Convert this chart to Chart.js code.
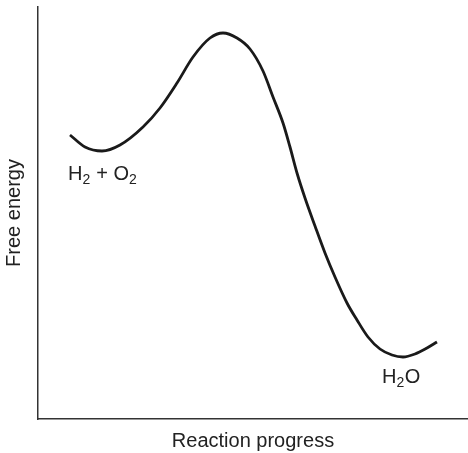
<!DOCTYPE html>
<html>
<head>
<meta charset="utf-8">
<script src="https://cdn.jsdelivr.net/npm/chart.js@4"></script>
<style>
  html, body { margin: 0; padding: 0; background: #fff; }
  #c { display: block; }
</style>
</head>
<body>
<canvas id="c" width="468" height="453"></canvas>
<script>
// Reaction progress (x) and free energy (y), arbitrary units
const progress = [32, 47, 64, 82, 105, 122, 139, 155, 172, 185, 199, 212, 225, 235, 245, 252, 259, 267, 277, 287, 297, 309, 319, 330, 342, 354, 365, 377, 389, 399];
const energy   = [284, 272, 268, 274, 292, 311, 336, 362, 381, 386, 381, 370, 348, 322, 296, 272, 246, 221, 193, 166, 142, 116, 99, 82, 70, 64, 62, 65, 71, 77];

// Curve labels: anchor in data units, text pieces (main, subscript)
const labelX = [30, 344];
const labelY = [239, 36];
const labelParts = [
  [["H", false], ["2", true], [" + ", false], ["O", false], ["2", true]],
  [["H", false], ["2", true], ["O", false]]
];

const xTitle = "Reaction progress";
const yTitle = "Free energy";

const FONT = "'Liberation Sans', Arial, Helvetica, sans-serif";
const TEXT = "#222";

const labelPlugin = {
  id: 'labels',
  afterDatasetsDraw(chart) {
    const ctx = chart.ctx;
    const xs = chart.scales.x, ys = chart.scales.y;
    ctx.save();
    ctx.fillStyle = TEXT;
    ctx.textBaseline = 'alphabetic';
    ctx.textAlign = 'left';
    labelParts.forEach((parts, i) => {
      let px = xs.getPixelForValue(labelX[i]);
      const py = ys.getPixelForValue(labelY[i]);
      parts.forEach(([t, sub]) => {
        ctx.font = (sub ? "14px " : "20px ") + FONT;
        ctx.fillText(t, px, py + (sub ? 4 : 0));
        px += ctx.measureText(t).width + (sub ? 0.5 : 0);
      });
    });
    ctx.restore();
  }
};

new Chart(document.getElementById('c'), {
  type: 'line',
  data: {
    datasets: [{
      data: progress.map((x, i) => ({ x: x, y: energy[i] })),
      borderColor: '#1a1a1a',
      borderWidth: 2.8,
      pointRadius: 0,
      fill: false,
      cubicInterpolationMode: 'monotone'
    }]
  },
  options: {
    responsive: false,
    animation: false,
    events: [],
    layout: { padding: { top: 7, right: 0, left: 0, bottom: 0 } },
    plugins: { legend: { display: false }, tooltip: { enabled: false } },
    scales: {
      x: {
        type: 'linear', min: 0, max: 430,
        grid: { display: false, drawTicks: false },
        border: { display: true, color: '#333', width: 1.5 },
        ticks: { display: false },
        title: { display: true, text: xTitle, color: TEXT, font: { family: FONT, size: 20 }, padding: { top: 0, bottom: 0 } },
        afterFit(s) { s.height = 34; }
      },
      y: {
        type: 'linear', min: 0, max: 412,
        grid: { display: false, drawTicks: false },
        border: { display: true, color: '#333', width: 1.5 },
        ticks: { display: false },
        title: { display: true, text: yTitle, color: TEXT, font: { family: FONT, size: 20 }, padding: { top: 2, bottom: 0 } },
        afterFit(s) { s.width = 38; }
      }
    }
  },
  plugins: [labelPlugin]
});
</script>
</body>
</html>
